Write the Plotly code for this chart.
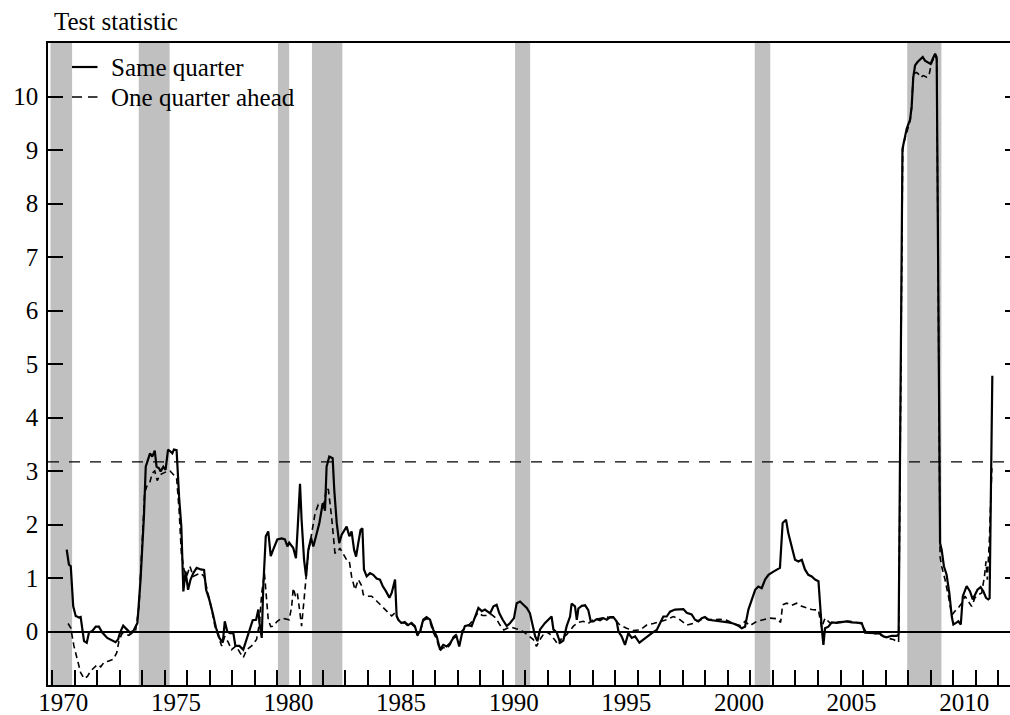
import plotly.graph_objects as go

# ---- data -------------------------------------------------------------
same_q_t = [1970.64, 1970.74, 1970.82, 1970.93, 1971.04, 1971.19, 1971.26, 1971.33, 1971.41, 1971.53,
            1971.63, 1971.78, 1971.93, 1972.07, 1972.22, 1972.44, 1972.59, 1972.81, 1972.92, 1973.01,
            1973.15, 1973.30, 1973.45, 1973.60, 1973.78, 1973.92, 1974.07, 1974.15, 1974.22, 1974.34,
            1974.44, 1974.55, 1974.63, 1974.74, 1974.81, 1974.93, 1975.03, 1975.14, 1975.26, 1975.33,
            1975.40, 1975.52, 1975.63, 1975.73, 1975.82, 1975.92, 1976.03, 1976.14, 1976.26, 1976.41,
            1976.59, 1976.74, 1976.83, 1976.97, 1977.12, 1977.27, 1977.42, 1977.57, 1977.66, 1977.77,
            1977.89, 1978.04, 1978.13, 1978.31, 1978.48, 1978.63, 1978.78, 1978.90, 1979.05, 1979.15,
            1979.20, 1979.30, 1979.37, 1979.48, 1979.59, 1979.70, 1979.81, 1979.99, 1980.19, 1980.33,
            1980.44, 1980.52, 1980.70, 1980.82, 1980.90, 1981.00, 1981.07, 1981.18, 1981.27, 1981.37,
            1981.49, 1981.59, 1981.71, 1981.86, 1982.01, 1982.11, 1982.18, 1982.30, 1982.45, 1982.52,
            1982.63, 1982.74, 1982.85, 1982.95, 1983.07, 1983.19, 1983.29, 1983.40, 1983.49, 1983.59,
            1983.69, 1983.77, 1983.84, 1983.96, 1984.11, 1984.25, 1984.40, 1984.55, 1984.67, 1984.82,
            1984.97, 1985.07, 1985.22, 1985.29, 1985.36, 1985.50, 1985.65, 1985.80, 1985.95, 1986.10,
            1986.21, 1986.33, 1986.47, 1986.62, 1986.77, 1986.92, 1987.07, 1987.22, 1987.36, 1987.51,
            1987.66, 1987.81, 1987.95, 1988.07, 1988.18, 1988.32, 1988.47, 1988.62, 1988.77, 1988.92,
            1989.07, 1989.21, 1989.44, 1989.59, 1989.73, 1989.85, 1990.00, 1990.18, 1990.33, 1990.50,
            1990.62, 1990.77, 1990.92, 1991.07, 1991.21, 1991.33, 1991.44, 1991.54, 1991.66, 1991.88,
            1992.03, 1992.17, 1992.25, 1992.40, 1992.55, 1992.69, 1992.84, 1992.99, 1993.06, 1993.21,
            1993.29, 1993.36, 1993.51, 1993.66, 1993.80, 1993.91, 1994.03, 1994.17, 1994.32, 1994.47,
            1994.62, 1994.77, 1994.91, 1995.06, 1995.14, 1995.28, 1995.43, 1995.58, 1995.73, 1995.88,
            1996.07, 1996.25, 1996.39, 1996.62, 1996.84, 1996.99, 1997.13, 1997.28, 1997.43, 1997.65,
            1997.87, 1998.02, 1998.17, 1998.39, 1998.54, 1998.69, 1998.84, 1998.98, 1999.13, 1999.35,
            1999.58, 1999.80, 2000.02, 2000.24, 2000.46, 2000.61, 2000.76, 2000.91, 2001.06, 2001.21,
            2001.35, 2001.50, 2001.65, 2001.80, 2002.02, 2002.17, 2002.31, 2002.43, 2002.58, 2002.68,
            2002.83, 2002.98, 2003.13, 2003.28, 2003.42, 2003.57, 2003.72, 2003.87, 2004.02, 2004.09,
            2004.17, 2004.24, 2004.31, 2004.46, 2004.61, 2004.83, 2005.05, 2005.27, 2005.50, 2005.72,
            2005.94, 2006.09, 2006.31, 2006.53, 2006.75, 2006.90, 2007.05, 2007.27, 2007.49, 2007.58,
            2007.75, 2007.82, 2007.94, 2008.09, 2008.16, 2008.23, 2008.31, 2008.41, 2008.53, 2008.65,
            2008.75, 2008.90, 2009.00, 2009.09, 2009.20, 2009.27, 2009.42, 2009.49, 2009.59, 2009.71,
            2009.83, 2009.94, 2010.01, 2010.13, 2010.23, 2010.34, 2010.43, 2010.60, 2010.75, 2010.87,
            2010.97, 2011.08, 2011.22, 2011.34, 2011.46, 2011.56, 2011.62, 2011.74]
same_q_v = [1.53, 1.25, 1.22, 0.47, 0.29, 0.26, 0.27, 0.04, -0.18, -0.21,
            -0.02, 0.01, 0.09, 0.09, -0.02, -0.12, -0.15, -0.20, -0.15, -0.02,
            0.11, 0.05, -0.02, 0.01, 0.16, 0.97, 2.15, 3.08, 3.18, 3.33,
            3.27, 3.38, 3.08, 3.05, 2.99, 3.08, 3.02, 3.40, 3.36, 3.33,
            3.40, 3.39, 2.52, 1.96, 0.75, 1.12, 0.78, 0.97, 1.09, 1.19,
            1.16, 1.15, 0.78, 0.60, 0.35, 0.07, -0.12, -0.21, 0.19, 0.00,
            -0.03, -0.03, -0.27, -0.27, -0.34, -0.15, 0.04, 0.21, 0.22, 0.41,
            0.16, -0.12, 0.85, 1.78, 1.87, 1.41, 1.53, 1.72, 1.74, 1.72,
            1.59, 1.66, 1.56, 1.37, 1.96, 2.76, 2.09, 1.34, 1.03, 1.53,
            1.75, 1.59, 1.78, 2.03, 2.40, 2.26, 3.08, 3.27, 3.24, 2.65,
            2.03, 1.65, 1.81, 1.87, 1.96, 1.78, 1.87, 1.53, 1.40, 1.66,
            1.90, 1.93, 1.16, 1.03, 1.09, 1.06, 0.99, 0.97, 0.85, 0.75,
            0.63, 0.72, 0.97, 0.29, 0.22, 0.16, 0.18, 0.12, 0.16, 0.10,
            -0.06, 0.00, 0.22, 0.27, 0.22, 0.03, -0.09, -0.34, -0.25, -0.28,
            -0.22, -0.12, -0.09, -0.28, -0.06, 0.10, 0.12, 0.10, 0.29, 0.44,
            0.38, 0.41, 0.34, 0.47, 0.50, 0.34, 0.22, 0.10, 0.16, 0.25,
            0.53, 0.56, 0.50, 0.44, 0.34, 0.10, -0.09, -0.18, 0.04, 0.16,
            0.22, 0.28, 0.04, -0.02, -0.21, -0.17, 0.10, 0.28, 0.52, 0.47,
            0.22, 0.43, 0.48, 0.49, 0.40, 0.19, 0.19, 0.23, 0.21, 0.25,
            0.22, 0.27, 0.27, 0.19, 0.00, -0.09, -0.25, -0.03, -0.12, -0.09,
            -0.21, -0.15, -0.09, -0.03, 0.03, 0.15, 0.28, 0.28, 0.37, 0.41,
            0.41, 0.42, 0.35, 0.32, 0.22, 0.19, 0.25, 0.27, 0.22, 0.21,
            0.19, 0.19, 0.17, 0.15, 0.11, 0.06, 0.09, 0.41, 0.60, 0.78,
            0.84, 0.81, 0.97, 1.06, 1.12, 1.16, 1.19, 2.03, 2.09, 1.84,
            1.59, 1.34, 1.31, 1.34, 1.16, 1.06, 1.03, 0.97, 0.94, 0.47,
            0.05, -0.25, 0.06, 0.09, 0.17, 0.16, 0.18, 0.19, 0.17, 0.16,
            0.16, -0.02, -0.02, -0.03, -0.04, -0.09, -0.11, -0.08, -0.08, -0.06,
            9.02, 9.18, 9.40, 9.57, 9.82, 10.36, 10.58, 10.64, 10.70, 10.74,
            10.67, 10.64, 10.61, 10.70, 10.80, 10.73, 1.65, 1.53, 1.22, 1.06,
            0.72, 0.28, 0.13, 0.16, 0.19, 0.13, 0.66, 0.85, 0.75, 0.60,
            0.69, 0.78, 0.83, 0.75, 0.63, 0.60, 0.62, 4.78]

ahead_q_t = [1970.70, 1970.82, 1970.96, 1971.11, 1971.26, 1971.41, 1971.56, 1971.70, 1971.85, 1972.00,
             1972.15, 1972.29, 1972.51, 1972.71, 1972.86, 1972.96, 1973.10, 1973.25, 1973.40, 1973.55,
             1973.70, 1973.85, 1974.00, 1974.10, 1974.22, 1974.34, 1974.44, 1974.55, 1974.66, 1974.78,
             1974.93, 1975.08, 1975.23, 1975.37, 1975.52, 1975.63, 1975.73, 1975.85, 1975.97, 1976.11,
             1976.26, 1976.41, 1976.59, 1976.74, 1976.88, 1977.08, 1977.22, 1977.37, 1977.52, 1977.66,
             1977.81, 1977.96, 1978.16, 1978.34, 1978.48, 1978.63, 1978.85, 1979.07, 1979.20, 1979.30,
             1979.42, 1979.59, 1979.70, 1979.81, 1979.99, 1980.19, 1980.38, 1980.52, 1980.63, 1980.70,
             1980.80, 1980.88, 1980.96, 1981.07, 1981.18, 1981.27, 1981.37, 1981.52, 1981.67, 1981.81,
             1981.96, 1982.07, 1982.18, 1982.26, 1982.40, 1982.55, 1982.66, 1982.77, 1982.92, 1983.07,
             1983.19, 1983.29, 1983.44, 1983.59, 1983.74, 1983.81, 1983.96, 1984.18, 1984.40, 1984.63,
             1984.85, 1985.07, 1985.22, 1985.37, 1985.50, 1985.65, 1985.80, 1985.95, 1986.10, 1986.21,
             1986.33, 1986.47, 1986.62, 1986.77, 1986.92, 1987.07, 1987.22, 1987.36, 1987.51, 1987.66,
             1987.81, 1987.95, 1988.10, 1988.30, 1988.50, 1988.70, 1988.90, 1989.10, 1989.30, 1989.50,
             1989.70, 1989.88, 1990.05, 1990.20, 1990.40, 1990.60, 1990.80, 1991.00, 1991.20, 1991.36,
             1991.50, 1991.70, 1991.90, 1992.10, 1992.30, 1992.47, 1992.62, 1992.84, 1993.14, 1993.36,
             1993.58, 1993.80, 1994.03, 1994.32, 1994.62, 1994.91, 1995.21, 1995.50, 1995.80, 1996.10,
             1996.39, 1996.69, 1996.99, 1997.28, 1997.58, 1997.87, 1998.17, 1998.46, 1998.76, 1999.06,
             1999.35, 1999.65, 1999.95, 2000.24, 2000.54, 2000.76, 2000.98, 2001.28, 2001.57, 2001.87,
             2002.17, 2002.34, 2002.43, 2002.61, 2002.83, 2003.05, 2003.28, 2003.50, 2003.72, 2004.02,
             2004.16, 2004.31, 2004.53, 2004.83, 2005.13, 2005.42, 2005.72, 2005.94, 2006.16, 2006.46,
             2006.75, 2007.05, 2007.35, 2007.58, 2007.76, 2007.82, 2007.94, 2008.09, 2008.16, 2008.23,
             2008.38, 2008.46, 2008.56, 2008.68, 2008.83, 2008.94, 2009.05, 2009.20, 2009.27, 2009.42,
             2009.49, 2009.64, 2009.79, 2009.94, 2010.08, 2010.23, 2010.38, 2010.53, 2010.68, 2010.82,
             2010.97, 2011.12, 2011.27, 2011.39, 2011.46, 2011.52, 2011.61, 2011.72]
ahead_q_v = [0.15, 0.07, -0.27, -0.52, -0.77, -0.88, -0.84, -0.74, -0.68, -0.62,
             -0.66, -0.58, -0.55, -0.52, -0.40, -0.18, -0.03, -0.05, -0.07, -0.03,
             0.01, 0.47, 1.78, 2.59, 2.74, 2.80, 2.96, 3.00, 2.82, 2.93,
             2.96, 2.99, 3.00, 2.93, 2.87, 2.28, 1.47, 1.16, 1.03, 1.22,
             1.03, 1.06, 1.09, 1.03, 0.78, 0.41, 0.10, -0.09, -0.27, -0.09,
             -0.20, -0.34, -0.27, -0.40, -0.49, -0.34, -0.27, -0.15, 0.16, 0.72,
             1.09, 0.22, 0.09, 0.10, 0.19, 0.25, 0.23, 0.22, 0.47, 0.81,
             0.66, 0.72, 0.47, 0.10, 0.60, 1.03, 1.47, 1.84, 2.21, 2.37,
             2.34, 2.40, 2.68, 2.65, 2.15, 1.47, 1.47, 1.56, 1.44, 1.34,
             1.31, 1.03, 0.78, 0.97, 0.85, 0.69, 0.66, 0.66, 0.57, 0.47,
             0.38, 0.29, 0.35, 0.22, 0.16, 0.16, 0.10, 0.14, 0.08, -0.08,
             -0.02, 0.20, 0.24, 0.18, -0.02, -0.15, -0.36, -0.30, -0.32, -0.25,
             -0.10, -0.05, -0.02, 0.05, 0.12, 0.22, 0.35, 0.30, 0.30, 0.32,
             0.25, 0.12, 0.03, 0.06, 0.08, 0.05, 0.03, -0.03, -0.10, -0.15,
             -0.28, -0.12, 0.00, -0.05, -0.15, -0.25, -0.12, -0.06, 0.10, 0.17,
             0.19, 0.15, 0.22, 0.25, 0.27, 0.25, 0.12, 0.06, 0.02, 0.03,
             0.12, 0.15, 0.19, 0.22, 0.28, 0.22, 0.12, 0.15, 0.22, 0.23,
             0.22, 0.23, 0.21, 0.15, 0.11, 0.19, 0.11, 0.19, 0.22, 0.25,
             0.24, 0.17, 0.50, 0.53, 0.49, 0.53, 0.47, 0.44, 0.41, 0.40,
             0.07, 0.25, 0.16, 0.17, 0.19, 0.19, 0.17, 0.14, -0.03, -0.03,
             -0.06, -0.12, -0.15, -0.20, 8.99, 9.15, 9.35, 9.55, 9.80, 10.42,
             10.45, 10.42, 10.36, 10.39, 10.36, 10.42, 10.64, 10.76, 10.70, 1.40,
             1.22, 0.97, 0.66, 0.31, 0.38, 0.44, 0.53, 0.66, 0.56, 0.47,
             0.63, 0.69, 0.72, 1.03, 1.31, 0.97, 1.72, 3.05]

critical_value = 3.17

# NBER recession periods (decimal years)
recession_start = [1969.92, 1973.84, 1980.02, 1981.53, 1990.55, 2001.19, 2007.96]
recession_end = [1970.88, 1975.21, 1980.52, 1982.88, 1991.22, 2001.88, 2009.48]

year_ticks = list(range(1970, 2013))
label_years = [1970, 1975, 1980, 1985, 1990, 1995, 2000, 2005, 2010]
y_ticks = list(range(0, 11))

x_range = [1969.81, 2012.525]
y_range = [-1, 11]

FONT = "Liberation Serif"
FS = 25

# ---- figure -----------------------------------------------------------
fig = go.Figure()

for s, e in zip(recession_start, recession_end):
    fig.add_vrect(x0=s, x1=e, fillcolor="#c0c0c0", opacity=1, line_width=0, layer="below")

SOLID = dict(color="black", width=2.2)
DASHED = dict(color="black", width=1.6, dash="6px,4px")

fig.add_trace(go.Scatter(x=same_q_t, y=same_q_v, mode="lines", name="Same quarter",
                         line=SOLID, showlegend=False))
fig.add_trace(go.Scatter(x=ahead_q_t, y=ahead_q_v, mode="lines", name="One quarter ahead",
                         line=DASHED, showlegend=False))

# critical-value reference line, placed on the right-hand y axis (same scale)
fig.add_trace(go.Scatter(x=x_range, y=[critical_value, critical_value], mode="lines",
                         xaxis="x", yaxis="y2", showlegend=False, hoverinfo="skip",
                         line=dict(color="black", width=1.3, dash="11px,10px")))

# yearly ticks; every fifth year labelled, label shifted to the middle of the year
tick_text = [str(y) if y in label_years else "" for y in year_ticks]

fig.update_layout(
    width=1010, height=715,
    margin=dict(l=48, r=0, t=43, b=30),
    paper_bgcolor="white", plot_bgcolor="white",
    font=dict(family=FONT, size=FS, color="black"),
    showlegend=False,
    xaxis=dict(range=x_range, tickvals=year_ticks, ticktext=tick_text,
               ticks="inside", ticklen=15, tickwidth=1.5, tickcolor="black",
               ticklabelshift=11, ticklabelstandoff=-6,
               tickfont=dict(family=FONT, size=FS), automargin=False,
               showline=True, linecolor="black", linewidth=1.5, mirror=True,
               showgrid=False, zeroline=False),
    yaxis=dict(range=y_range, tickvals=y_ticks, ticktext=[str(v) for v in y_ticks],
               ticks="inside", ticklen=15, tickwidth=1.5, tickcolor="black",
               showline=True, linecolor="black", linewidth=1.5, automargin=False,
               showgrid=False, zeroline=True, zerolinecolor="black", zerolinewidth=1.5,
               tickfont=dict(family=FONT, size=FS), ticklabelstandoff=3),
    yaxis2=dict(range=y_range, overlaying="y", anchor="x", side="right",
                tickvals=y_ticks, showticklabels=False, automargin=False,
                ticks="inside", ticklen=5, tickwidth=1.5, tickcolor="black",
                showline=False, showgrid=False, zeroline=False),
)

# axis caption
fig.add_annotation(text="Test statistic", xref="paper", yref="paper",
                   x=0.004, y=1.033, xanchor="left", yanchor="middle",
                   showarrow=False, font=dict(family=FONT, size=FS))

# legend: key lines plus labels in the upper-left corner
def px_x(p):
    return (p - 48) / 962.0

def px_y(p):
    return (685 - p) / 642.0

legend_rows = [("Same quarter", SOLID, 67), ("One quarter ahead", DASHED, 97)]
for label, style, row_y in legend_rows:
    key_style = dict(style)
    if "dash" in key_style:
        key_style["dash"] = "10px,6px"
    fig.add_shape(type="line", xref="paper", yref="paper",
                  x0=px_x(72), x1=px_x(97.5), y0=px_y(row_y), y1=px_y(row_y),
                  line=key_style, layer="above")
    fig.add_annotation(text=label, xref="paper", yref="paper",
                       x=px_x(109), y=px_y(row_y), xanchor="left", yanchor="middle",
                       showarrow=False, font=dict(family=FONT, size=FS))

fig.write_html("out.html")
